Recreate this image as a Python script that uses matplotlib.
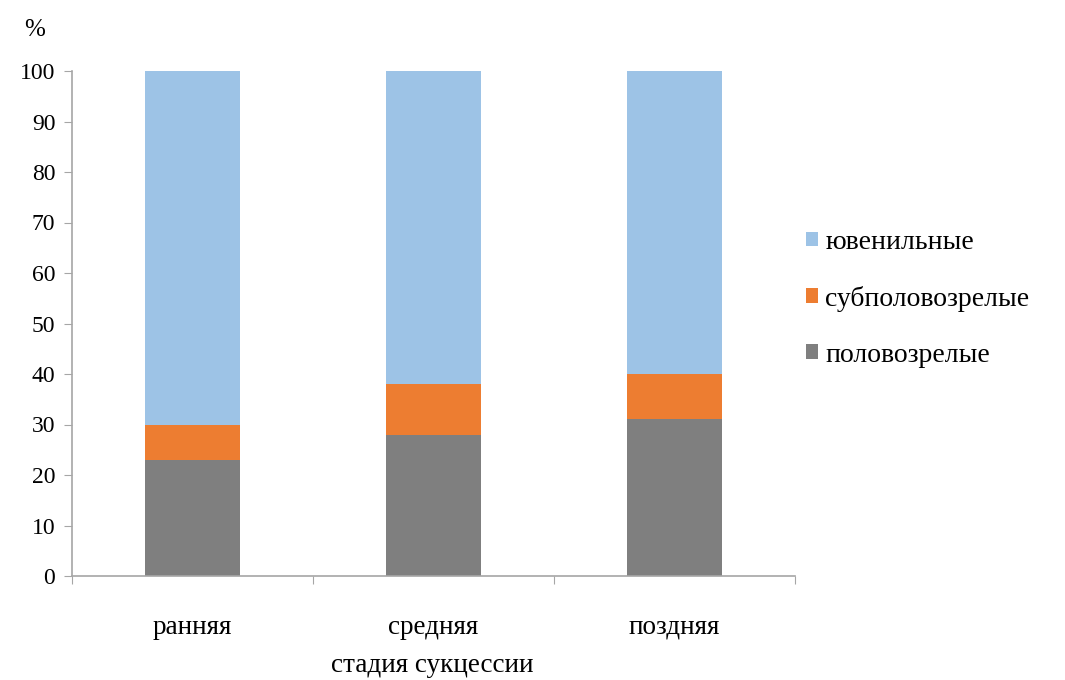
import matplotlib
matplotlib.use("Agg")
import matplotlib.pyplot as plt
import numpy as np

plt.rcParams["font.family"] = ["Liberation Serif", "DejaVu Serif"]

stages = ["ранняя", "средняя", "поздняя"]
mature = [23, 28, 31]
submature = [7, 10, 9]
juvenile = [70, 62, 60]

c_juv = "#9DC3E6"
c_sub = "#ED7D31"
c_mat = "#7F7F7F"

fig = plt.figure(figsize=(10.65, 6.80), dpi=100)
ax = fig.add_axes([72 / 1065, 1 - 576 / 680, 723 / 1065, 505 / 680])

x = np.arange(len(stages))
w = 0.395
b_mat = ax.bar(x, mature, w, color=c_mat, label="половозрелые")
b_sub = ax.bar(x, submature, w, bottom=mature, color=c_sub, label="субполовозрелые")
bottom2 = np.array(mature) + np.array(submature)
b_juv = ax.bar(x, juvenile, w, bottom=bottom2, color=c_juv, label="ювенильные")

ax.set_xlim(-0.5, 2.5)
ax.set_ylim(0, 100)
ax.set_yticks(range(0, 101, 10))
ax.set_xticks([-0.5, 0.5, 1.5, 2.5])
ax.set_xticklabels([])
ax.set_xticks(x, minor=True)
ax.set_xticklabels(stages, minor=True, fontsize=19.5)
ax.tick_params(axis="x", which="minor", length=0, pad=28)
ax.tick_params(axis="x", which="major", length=6, color="#A6A6A6", direction="out")
ax.tick_params(axis="y", length=6, color="#A6A6A6", labelsize=17, pad=6)

for s in ["top", "right"]:
    ax.spines[s].set_visible(False)
for s in ["left", "bottom"]:
    ax.spines[s].set_color("#A6A6A6")
    ax.spines[s].set_linewidth(1.2)

fig.text(35 / 1065, 1 - 30 / 680, "%", fontsize=18, ha="center", va="center")
fig.text(432 / 1065, 1 - 665 / 680, "стадия сукцессии", fontsize=19.5,
         ha="center", va="center")

ax.legend(handles=[b_juv, b_sub, b_mat], loc="center left",
          bbox_to_anchor=(0.988, 0.549), frameon=False, fontsize=20,
          handlelength=0.45, handleheight=0.45, handletextpad=0.25,
          labelspacing=1.11, borderaxespad=0.3)

fig.savefig("out.png", dpi=100)
